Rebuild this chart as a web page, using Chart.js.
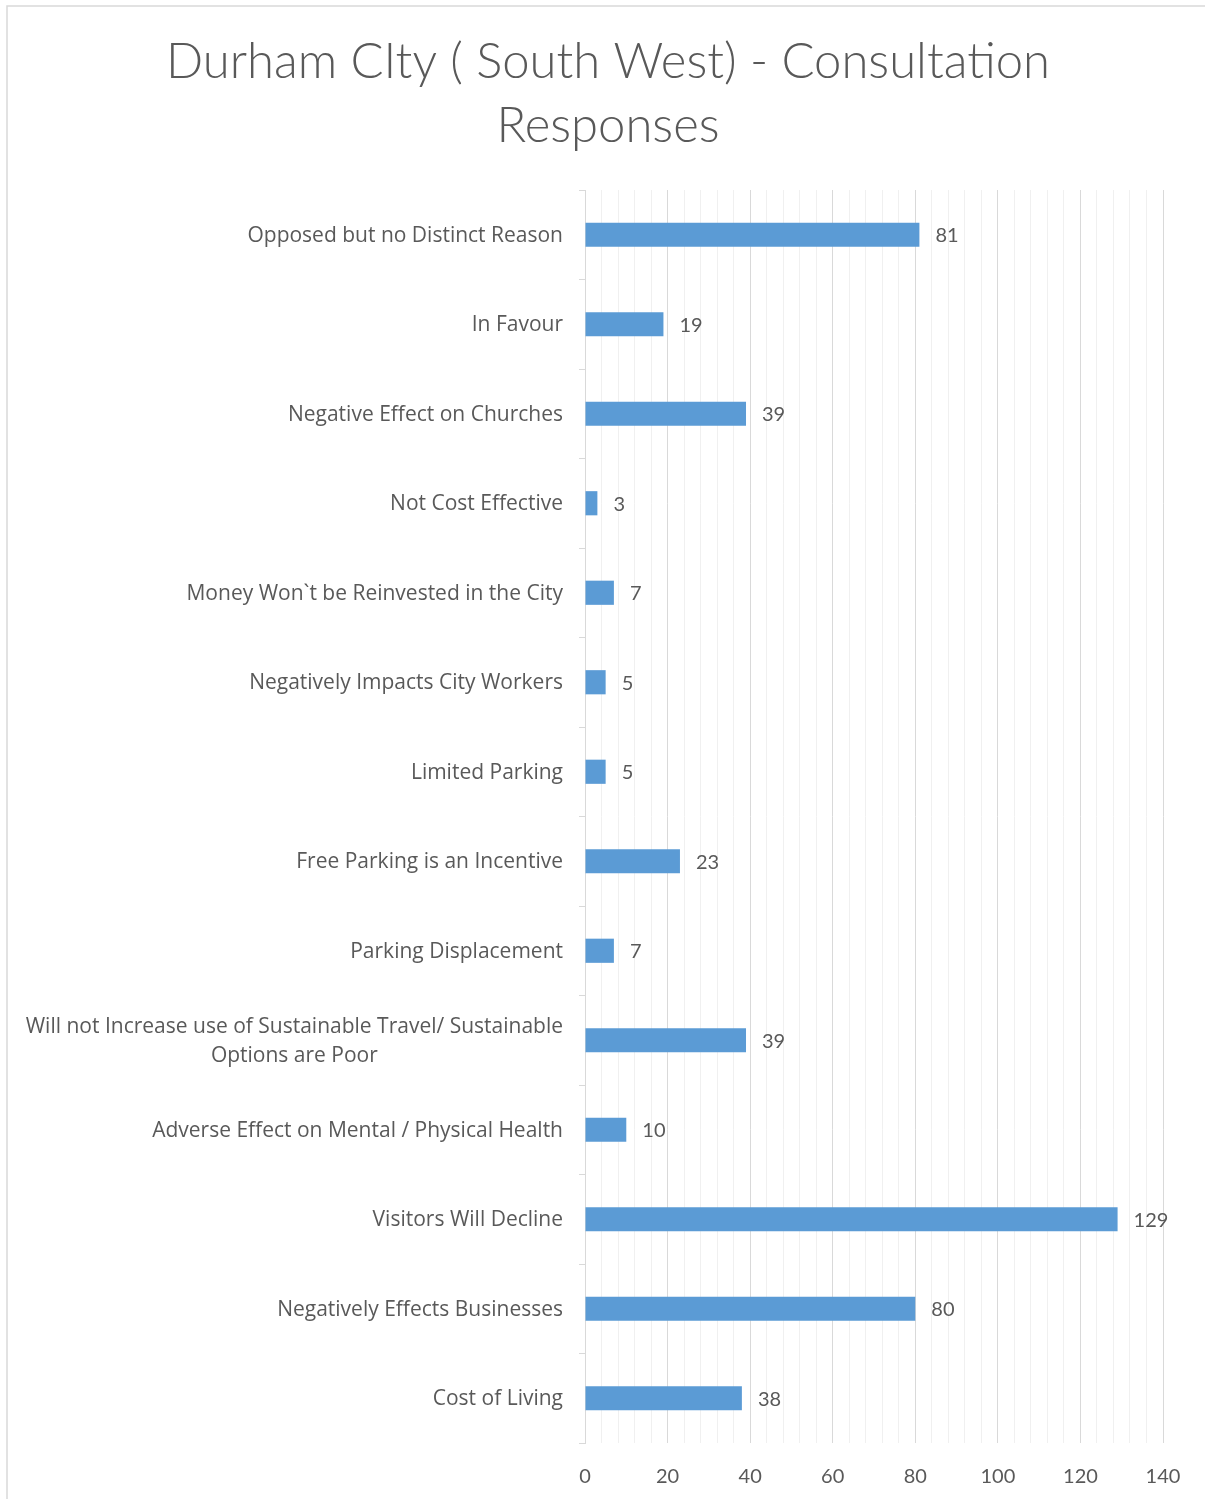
<!DOCTYPE html>
<html>
<head>
<meta charset="utf-8">
<script src="https://cdn.jsdelivr.net/npm/chart.js@4"></script>
<style>
html,body{margin:0;padding:0;background:#fff;}
canvas{display:block;}
</style>
</head>
<body>
<canvas id="c" width="1205" height="1499"></canvas>
<script>
const titleLines = ['Durham CIty ( South West) - Consultation', 'Responses'];
const categories = [
  'Opposed but no Distinct Reason',
  'In Favour',
  'Negative Effect on Churches',
  'Not Cost Effective',
  'Money Won`t be Reinvested in the City',
  'Negatively Impacts City Workers',
  'Limited Parking',
  'Free Parking is an Incentive',
  'Parking Displacement',
  ['Will not Increase use of Sustainable Travel/ Sustainable', 'Options are Poor'],
  'Adverse Effect on Mental / Physical Health',
  'Visitors Will Decline',
  'Negatively Effects Businesses',
  'Cost of Living'
];
const responses = [81, 19, 39, 3, 7, 5, 5, 23, 7, 39, 10, 129, 80, 38];
const xMin = 0, xMax = 140, xMajorStep = 20, xMinorStep = 4;

const FONT = 'Lato, "Open Sans", sans-serif';
const LABFONT = '"Open Sans", Lato, sans-serif';
const TEXT = '#595959';

const framePlugin = {
  id: 'frame',
  beforeDraw(chart) {
    const ctx = chart.ctx;
    ctx.save();
    ctx.fillStyle = '#ffffff';
    ctx.fillRect(0, 0, chart.width, chart.height);
    ctx.strokeStyle = '#d9d9d9';
    ctx.lineWidth = 1.5;
    ctx.strokeRect(7, 6, chart.width + 20, chart.height + 20);
    ctx.fillStyle = TEXT;
    ctx.font = '300 49px ' + FONT;
    ctx.textAlign = 'center';
    ctx.textBaseline = 'middle';
    titleLines.forEach((t, i) => ctx.fillText(t, 608, 62 + i * 64));
    ctx.restore();
  }
};

const labelPlugin = {
  id: 'labels',
  afterDraw(chart) {
    const ctx = chart.ctx;
    const ys = chart.scales.y;
    ctx.save();
    ctx.fillStyle = TEXT;
    ctx.font = '21px ' + LABFONT;
    ctx.textBaseline = 'middle';
    categories.forEach((lab, i) => {
      const lines = Array.isArray(lab) ? lab : [lab];
      const y = ys.getPixelForValue(i) + 1;
      const lh = 29;
      const w = Math.max(...lines.map(l => ctx.measureText(l).width));
      const right = ys.right - 22;
      ctx.textAlign = 'center';
      const cx = right - w / 2;
      lines.forEach((l, k) => {
        ctx.fillText(l, cx, y + (k - (lines.length - 1) / 2) * lh);
      });
    });
    // value labels
    ctx.font = '20px ' + FONT;
    const meta = chart.getDatasetMeta(0);
    ctx.textAlign = 'left';
    meta.data.forEach((bar, i) => {
      ctx.fillText(String(responses[i]), bar.x + 16, bar.y + 1);
    });
    ctx.restore();
  }
};

new Chart(document.getElementById('c'), {
  type: 'bar',
  data: {
    labels: categories,
    datasets: [{
      data: responses,
      backgroundColor: '#5b9bd5',
      borderWidth: 0,
      categoryPercentage: 1,
      barPercentage: 0.27
    }]
  },
  options: {
    indexAxis: 'y',
    responsive: false,
    devicePixelRatio: 1,
    animation: false,
    layout: { padding: { top: 190, right: 42, bottom: 0, left: 0 } },
    plugins: { legend: { display: false }, tooltip: { enabled: false }, title: { display: false } },
    scales: {
      x: {
        min: xMin, max: xMax,
        afterFit(s) { s.height = 56; },
        border: { display: false },
        grid: {
          drawTicks: false,
          color: (c) => (c.tick && c.tick.value % xMajorStep === 0) ? '#d9d9d9' : '#f0f0f0',
          lineWidth: 1
        },
        ticks: {
          stepSize: xMinorStep,
          autoSkip: false,
          maxRotation: 0,
          padding: 22,
          color: TEXT,
          font: { family: FONT, size: 20 },
          callback: (v) => (v % xMajorStep === 0 ? String(v) : '')
        }
      },
      y: {
        afterFit(s) { s.width = 585; },
        offset: true,
        border: { display: true, color: '#d9d9d9', width: 1 },
        grid: {
          offset: true,
          drawOnChartArea: false,
          drawTicks: true,
          tickLength: 6,
          color: '#d9d9d9'
        },
        ticks: { display: false }
      }
    }
  },
  plugins: [framePlugin, labelPlugin]
});
</script>
</body>
</html>
